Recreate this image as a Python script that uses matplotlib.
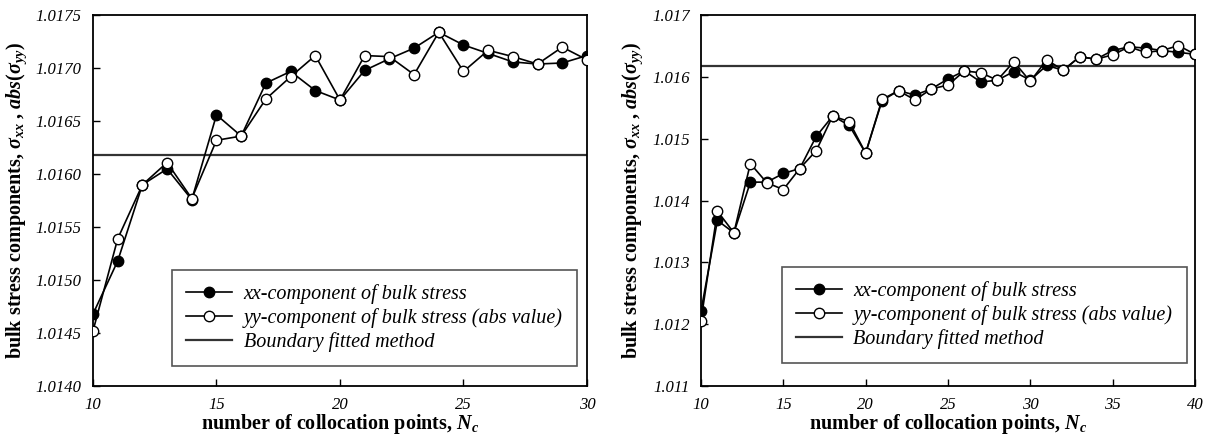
import matplotlib.pyplot as plt
from matplotlib.ticker import FormatStrFormatter

plt.rcParams['font.family'] = ['Liberation Serif', 'DejaVu Serif']
plt.rcParams['mathtext.fontset'] = 'custom'
plt.rcParams['mathtext.rm'] = 'Liberation Serif:bold'
plt.rcParams['mathtext.it'] = 'Liberation Serif:bold:italic'
plt.rcParams['mathtext.bf'] = 'Liberation Serif:bold'

# left panel data
nc_left = list(range(10, 31))
xx_left = [1.01468, 1.01518, 1.01590, 1.01605, 1.01576, 1.01656, 1.01636, 1.01686,
           1.01697, 1.01679, 1.01670, 1.01698, 1.01709, 1.01719, 1.01734, 1.01722,
           1.01714, 1.01706, 1.01704, 1.01705, 1.01712]
yy_left = [1.01452, 1.01539, 1.01590, 1.01611, 1.01577, 1.01632, 1.01636, 1.01671,
           1.01692, 1.01712, 1.01670, 1.01712, 1.01711, 1.01694, 1.01734, 1.01697,
           1.01717, 1.01711, 1.01704, 1.01720, 1.01708]

# right panel data
nc_right = list(range(10, 41))
xx_right = [1.01221, 1.01368, 1.01348, 1.01430, 1.01430, 1.01444, 1.01452, 1.01504,
            1.01537, 1.01522, 1.01477, 1.01562, 1.01578, 1.01571, 1.01581, 1.01597,
            1.01610, 1.01592, 1.01595, 1.01609, 1.01595, 1.01619, 1.01611, 1.01633,
            1.01629, 1.01643, 1.01649, 1.01647, 1.01643, 1.01640, 1.01637]
yy_right = [1.01206, 1.01383, 1.01348, 1.01460, 1.01429, 1.01418, 1.01452, 1.01481,
            1.01537, 1.01528, 1.01477, 1.01564, 1.01578, 1.01563, 1.01581, 1.01587,
            1.01610, 1.01607, 1.01595, 1.01625, 1.01593, 1.01628, 1.01611, 1.01633,
            1.01629, 1.01636, 1.01649, 1.01640, 1.01643, 1.01651, 1.01637]

boundary_fitted = 1.01618

fig = plt.figure(figsize=(12.14, 4.44), dpi=100)
ax1 = fig.add_axes([0.0766, 0.1306, 0.4069, 0.8349])
ax2 = fig.add_axes([0.5774, 0.1306, 0.4069, 0.8349])

panels = [
    (ax1, nc_left, xx_left, yy_left, (10, 30), (1.0140, 1.0175), [10, 15, 20, 25, 30],
     [1.0140 + 0.0005 * i for i in range(8)], '%.4f', (0.160, 0.054)),
    (ax2, nc_right, xx_right, yy_right, (10, 40), (1.011, 1.017), [10, 15, 20, 25, 30, 35, 40],
     [1.011 + 0.001 * i for i in range(7)], '%.3f', (0.164, 0.062)),
]

for ax, nc, xx, yy, xlim, ylim, xticks, yticks, fmt, leg_pos in panels:
    ax.plot(nc, xx, color='black', lw=1.2, marker='o', ms=7.5, mfc='black', mec='black',
            label='xx-component of bulk stress', zorder=3)
    ax.plot(nc, yy, color='black', lw=1.2, marker='o', ms=7.5, mfc='white', mec='black',
            mew=1.0, label='yy-component of bulk stress (abs value)', zorder=4)
    ax.axhline(boundary_fitted, color='#333333', lw=1.6, label='Boundary fitted method', zorder=2)
    ax.set_xlim(*xlim)
    ax.set_ylim(*ylim)
    ax.set_xticks(xticks)
    ax.set_yticks(yticks)
    ax.yaxis.set_major_formatter(FormatStrFormatter(fmt))
    ax.tick_params(direction='in', length=5, width=1, labelsize=12, pad=8)
    for lab in ax.get_xticklabels() + ax.get_yticklabels():
        lab.set_fontstyle('italic')
    for sp in ax.spines.values():
        sp.set_linewidth(1.3)
    ax.set_xlabel(r'number of collocation points, $N_c$', fontsize=14.5, fontweight='bold', labelpad=-1)
    ax.set_ylabel(r'bulk stress components, $\sigma_{xx}$ , $abs(\sigma_{yy})$',
                  fontsize=14.5, fontweight='bold', labelpad=5)
    leg = ax.legend(loc='lower left', bbox_to_anchor=leg_pos, borderaxespad=0, fancybox=False,
                    shadow=False, framealpha=1, edgecolor='#555555', handlelength=2.3,
                    handletextpad=0.55, prop={'style': 'italic', 'size': 14.5},
                    borderpad=0.7, labelspacing=0.2)
    leg.get_frame().set_linewidth(1.2)

fig.savefig('out.png', dpi=100)
